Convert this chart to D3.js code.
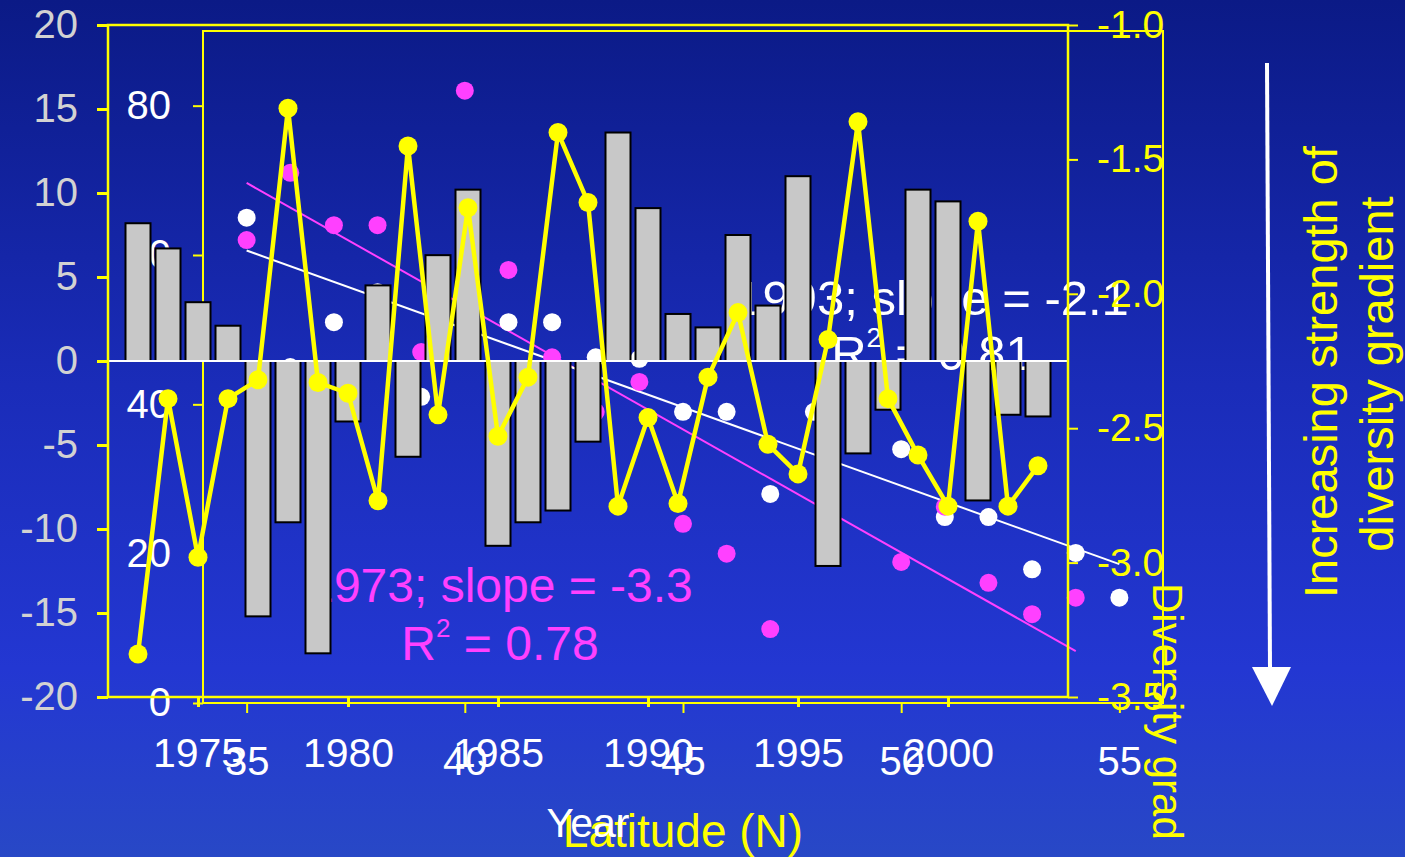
<!DOCTYPE html>
<html>
<head>
<meta charset="utf-8">
<script src="https://cdn.jsdelivr.net/npm/d3@7"></script>
<style>
  html, body { margin: 0; padding: 0; background: #0c1c88; }
  svg { display: block; font-family: "Liberation Sans", Arial, Helvetica, sans-serif; }
  text { white-space: pre; }
</style>
</head>
<body>
<svg id="chart" width="1405" height="857"></svg>
<script>
// ---- Yearly series (bars = left axis, line = right axis) ----
const years = [1973, 1974, 1975, 1976, 1977, 1978, 1979, 1980, 1981, 1982,
               1983, 1984, 1985, 1986, 1987, 1988, 1989, 1990, 1991, 1992,
               1993, 1994, 1995, 1996, 1997, 1998, 1999, 2000, 2001, 2002, 2003];
const barValues = [8.2, 6.7, 3.5, 2.1, -15.2, -9.6, -17.4, -3.6, 4.5, -5.7,
                   6.3, 10.2, -11.0, -9.6, -8.9, -4.8, 13.6, 9.1, 2.8, 2.0,
                   7.5, 3.3, 11.0, -12.2, -5.5, -2.9, 10.2, 9.5, -8.3, -3.2, -3.3];
const diversityGradient = [-3.34, -2.39, -2.98, -2.39, -2.32, -1.31, -2.33, -2.37, -2.77, -1.45,
                           -2.45, -1.68, -2.53, -2.31, -1.40, -1.66, -2.79, -2.46, -2.78, -2.31,
                           -2.07, -2.56, -2.67, -2.17, -1.36, -2.39, -2.60, -2.79, -1.73, -2.79, -2.64];

const yearTicks = [1975, 1980, 1985, 1990, 1995, 2000];
const leftTicks = [-20, -15, -10, -5, 0, 5, 10, 15, 20];
const rightTicks = [-1.0, -1.5, -2.0, -2.5, -3.0, -3.5];

// ---- Latitudinal richness, 1973 and 1993 ----
const lat1973 = [35, 36, 37, 38, 39, 40, 41, 42, 43, 44, 45, 46, 47, 50, 51, 52, 53, 54];
const rich1973 = [62, 71, 64, 64, 47, 82, 58, 46.3, 39, 43, 24, 20, 9.9, 18.9, 26.3, 16.1, 11.9, 14.1];
const lat1993 = [35, 36, 37, 38, 39, 41, 42, 43, 44, 45, 46, 47, 48, 50, 51, 52, 53, 54, 55];
const rich1993 = [65, 45, 51, 55, 41, 51, 51, 46.3, 46.1, 39, 39, 28, 39, 34, 24.9, 24.9, 17.9, 20.1, 14.1];

const latTicks = [35, 40, 45, 50, 55];
const richTicks = [0, 20, 40, 60, 80];

// regression fits: slope, a point on the line, and latitude span
const fitYears = ["1973", "1993"];
const fitSlopes = [-3.3, -2.1];
const fitR2 = ["0.78", "0.81"];
const fitPivotLat = [44.5, 45];
const fitPivotVal = [38.3, 39.6];
const fitSpan = [[35, 54], [35, 55]];

const YELLOW = "#ffff00", MAGENTA = "#ff40ff", WHITE = "#ffffff", LIGHT = "#d2d2d2";

const svg = d3.select("#chart");

// background gradient
const defs = svg.append("defs");
const grad = defs.append("linearGradient").attr("id", "bg").attr("x1", 0).attr("y1", 0).attr("x2", 0).attr("y2", 1);
[["0", "#0b1a86"], ["0.45", "#1a2cb9"], ["0.78", "#2337d2"], ["1", "#2848c6"]]
  .forEach(([o, c]) => grad.append("stop").attr("offset", o).attr("stop-color", c));
svg.append("rect").attr("width", 1405).attr("height", 857).attr("fill", "url(#bg)");

function styleAxis(g, color, size, lineColor, lineWidth) {
  g.select(".domain").remove();
  g.selectAll(".tick line").attr("stroke", lineColor).attr("stroke-width", lineWidth);
  g.selectAll(".tick text").attr("fill", color).attr("font-size", size)
    .attr("font-family", '"Liberation Sans", Arial, sans-serif');
}

// ================= Latitude panel (drawn underneath) =================
const lx = d3.scaleLinear().domain([34, 56]).range([203, 1163]);
const ly = d3.scaleLinear().domain([0, 90]).range([703, 31]);

const back = svg.append("g");
back.append("rect").attr("x", lx(34)).attr("y", ly(90))
  .attr("width", lx(56) - lx(34)).attr("height", ly(0) - ly(90))
  .attr("fill", "none").attr("stroke", YELLOW).attr("stroke-width", 2);

back.append("g").attr("transform", `translate(${lx(34)},0)`)
  .call(d3.axisLeft(ly).tickValues(richTicks).tickSize(10).tickPadding(22).tickFormat(d => String(d)))
  .call(g => styleAxis(g, WHITE, 40, YELLOW, 2));

back.append("g").attr("transform", `translate(0,${ly(0)})`)
  .call(d3.axisBottom(lx).tickValues(latTicks).tickSize(10).tickPadding(34).tickFormat(d => String(d)))
  .call(g => styleAxis(g, WHITE, 40, YELLOW, 2));

// fitted lines
fitYears.forEach((yr, i) => {
  const f = v => fitPivotVal[i] + fitSlopes[i] * (v - fitPivotLat[i]);
  back.append("line")
    .attr("x1", lx(fitSpan[i][0])).attr("y1", ly(f(fitSpan[i][0])))
    .attr("x2", lx(fitSpan[i][1])).attr("y2", ly(f(fitSpan[i][1])))
    .attr("stroke", i === 0 ? MAGENTA : WHITE).attr("stroke-width", 2);
});

back.append("g").selectAll("circle").data(lat1993).join("circle")
  .attr("cx", d => lx(d)).attr("cy", (d, i) => ly(rich1993[i])).attr("r", 9).attr("fill", WHITE);
back.append("g").selectAll("circle").data(lat1973).join("circle")
  .attr("cx", d => lx(d)).attr("cy", (d, i) => ly(rich1973[i])).attr("r", 9).attr("fill", MAGENTA);

// fit annotations
const fitLabelPos = [[500, 602, 660, 48], [932, 315, 370, 49]];
fitYears.forEach((yr, i) => {
  const [cx, b1, b2, fs] = fitLabelPos[i];
  const col = i === 0 ? MAGENTA : WHITE;
  back.append("text").attr("x", cx).attr("y", b1).attr("text-anchor", "middle")
    .attr("font-size", fs).attr("fill", col)
    .text(`${yr}; slope = ${fitSlopes[i].toFixed(1)}`);
  const t = back.append("text").attr("x", cx).attr("y", b2).attr("text-anchor", "middle")
    .attr("font-size", fs).attr("fill", col);
  t.append("tspan").text("R");
  t.append("tspan").attr("dy", -23).attr("font-size", Math.round(fs * 0.55)).text("2");
  t.append("tspan").attr("dy", 23).text(` = ${fitR2[i]}`);
});

back.append("text").attr("x", lx(45)).attr("y", 847).attr("text-anchor", "middle")
  .attr("font-size", 46).attr("fill", YELLOW).text("Latitude (N)");

// ================= Yearly panel (drawn on top) =================
const x = d3.scaleLinear().domain([1972, 2004]).range([108, 1068]);
const y = d3.scaleLinear().domain([-20, 20]).range([697, 25]);
const yR = d3.scaleLinear().domain([-3.5, -1.0]).range([697, 25]);

const front = svg.append("g");
const barW = 25;
front.append("g").selectAll("rect").data(years).join("rect")
  .attr("x", d => x(d) - barW / 2)
  .attr("y", (d, i) => Math.min(y(barValues[i]), y(0)))
  .attr("width", barW)
  .attr("height", (d, i) => Math.abs(y(barValues[i]) - y(0)))
  .attr("fill", "#c8c8c8").attr("stroke", "#000").attr("stroke-width", 2);

front.append("line").attr("x1", x(1972)).attr("x2", x(2004)).attr("y1", y(0)).attr("y2", y(0))
  .attr("stroke", WHITE).attr("stroke-width", 2);

front.append("rect").attr("x", x(1972)).attr("y", y(20))
  .attr("width", x(2004) - x(1972)).attr("height", y(-20) - y(20))
  .attr("fill", "none").attr("stroke", YELLOW).attr("stroke-width", 2.5);

front.append("g").attr("transform", `translate(${x(1972)},0)`)
  .call(d3.axisLeft(y).tickValues(leftTicks).tickSize(11).tickPadding(19).tickFormat(d => String(d)))
  .call(g => styleAxis(g, LIGHT, 40, YELLOW, 3));

front.append("g").attr("transform", `translate(${x(2004)},0)`)
  .call(d3.axisRight(yR).tickValues(rightTicks).tickSize(10).tickPadding(19).tickFormat(d => d.toFixed(1)))
  .call(g => styleAxis(g, YELLOW, 39, YELLOW, 2));

front.append("g").attr("transform", `translate(0,${y(-20)})`)
  .call(d3.axisBottom(x).tickValues(yearTicks).tickSize(10).tickPadding(31).tickFormat(d => String(d)))
  .call(g => styleAxis(g, WHITE, 41, YELLOW, 3));

const line = d3.line().x(d => x(d)).y((d, i) => yR(diversityGradient[i]));
front.append("path").datum(years).attr("d", line)
  .attr("fill", "none").attr("stroke", YELLOW).attr("stroke-width", 4.5).attr("stroke-linejoin", "round");
front.append("g").selectAll("circle").data(years).join("circle")
  .attr("cx", d => x(d)).attr("cy", (d, i) => yR(diversityGradient[i])).attr("r", 9.5).attr("fill", YELLOW);

front.append("text").attr("x", 588).attr("y", 837).attr("text-anchor", "middle")
  .attr("font-size", 41).attr("fill", WHITE).text("Year");

front.append("text").attr("transform", "translate(1153,583) rotate(90)")
  .attr("font-size", 42).attr("fill", YELLOW).text("Diversity grad");

// ---- side note with arrow ----
const note = svg.append("g");
note.append("line").attr("x1", 1267).attr("y1", 63).attr("x2", 1270).attr("y2", 670)
  .attr("stroke", WHITE).attr("stroke-width", 4);
note.append("path").attr("d", "M1252,667 L1291,667 L1272,706 Z").attr("fill", WHITE);
note.append("text").attr("transform", "translate(1337,372) rotate(-90)").attr("text-anchor", "middle")
  .attr("font-size", 47).attr("fill", YELLOW).text("Increasing strength of");
note.append("text").attr("transform", "translate(1393,374) rotate(-90)").attr("text-anchor", "middle")
  .attr("font-size", 47).attr("fill", YELLOW).text("diversity gradient");
</script>
</body>
</html>
